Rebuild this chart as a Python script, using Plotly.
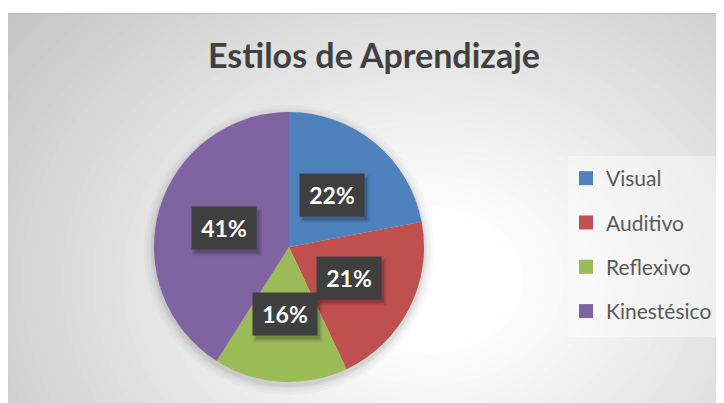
import math
import plotly.graph_objects as go

# ---- data ----
categories = ["Visual", "Auditivo", "Reflexivo", "Kinestésico"]
values = [22, 21, 16, 41]
colors = ["#4F81BD", "#C0504D", "#9BBB59", "#8064A2"]
title_text = "Estilos de Aprendizaje"

# ---- layout geometry (window pixels; page body has an 8px margin) ----
OFF = 8
FW, FH = 716, 395
PIE_CX, PIE_CY, PIE_R = 289, 247, 135
LABEL_FRAC = 0.5
BOX_W, BOX_H = 64, 42


def px(x):
    return (x - OFF) / FW


def py(y):
    return 1 - (y - OFF) / FH


shapes = []

# radial gradient background approximation
GCX, GCY, GRX, GRY = 430, 280, 420, 330
steps = 60
for i in range(steps, -1, -1):
    s = 0.15 + i * (1.6 - 0.15) / steps
    t = min(max((s - 0.2) / 1.1, 0), 1)
    c = round(255 - 59 * t)
    shapes.append(dict(type="circle", xref="paper", yref="paper", layer="below",
                       x0=px(GCX - s * GRX), x1=px(GCX + s * GRX),
                       y0=py(GCY + s * GRY), y1=py(GCY - s * GRY),
                       fillcolor=f"rgb({c},{c},{c})", line=dict(width=0)))

# white top strip and chart border
shapes.append(dict(type="rect", xref="paper", yref="paper", layer="below",
                   x0=-0.02, x1=1.02, y0=py(13), y1=1.05, fillcolor="white", line=dict(width=0)))
shapes.append(dict(type="line", xref="paper", yref="paper", layer="below",
                   x0=0, x1=1, y0=py(13.5), y1=py(13.5), line=dict(color="#bdbdbd", width=1)))

# legend panel
shapes.append(dict(type="rect", xref="paper", yref="paper", layer="below",
                   x0=px(568), x1=px(722), y0=py(337), y1=py(156),
                   fillcolor="rgba(255,255,255,0.4)", line=dict(width=0)))

# pie soft shadow
for k, a in [(10, 0.025), (7, 0.03), (4, 0.04), (2, 0.05)]:
    shapes.append(dict(type="circle", xref="paper", yref="paper", layer="below",
                       x0=px(PIE_CX - PIE_R - k), x1=px(PIE_CX + PIE_R + k),
                       y0=py(PIE_CY + 3 + PIE_R + k), y1=py(PIE_CY + 3 - PIE_R - k),
                       fillcolor=f"rgba(0,0,0,{a})", line=dict(width=0)))

fig = go.Figure()

fig.add_trace(go.Pie(
    labels=categories, values=values, sort=False, direction="clockwise", rotation=0,
    marker=dict(colors=colors, line=dict(width=0)),
    textinfo="none", hoverinfo="label+percent", showlegend=False,
    domain=dict(x=[px(PIE_CX - PIE_R), px(PIE_CX + PIE_R)],
                y=[py(PIE_CY + PIE_R), py(PIE_CY - PIE_R)]),
))

# legend entries
for cat, col in zip(categories, colors):
    fig.add_trace(go.Scatter(x=[None], y=[None], mode="markers", name=cat,
                             legendgroup=cat, showlegend=True,
                             marker=dict(symbol="square", size=14, color=col)))

# percentage labels (dark boxes with soft drop shadow)
annotations = []
total = sum(values)
cum = 0
for v in values:
    mid = (cum + v / 2) / total * 2 * math.pi
    cum += v
    lx = PIE_CX + LABEL_FRAC * PIE_R * math.sin(mid)
    ly = PIE_CY - LABEL_FRAC * PIE_R * math.cos(mid)
    txt = f"{round(100 * v / total)}%"
    for k, a in [(3, 0.06), (1.5, 0.09), (0, 0.13)]:
        shapes.append(dict(type="rect", xref="paper", yref="paper", layer="above",
                           x0=px(lx - BOX_W / 2 + 3 - k), x1=px(lx + BOX_W / 2 + 3 + k),
                           y0=py(ly + BOX_H / 2 + 4 + k), y1=py(ly - BOX_H / 2 + 4 - k),
                           fillcolor=f"rgba(0,0,0,{a})", line=dict(width=0)))
    annotations.append(dict(x=px(lx), y=py(ly), xref="paper", yref="paper", showarrow=False,
                            xanchor="center", yanchor="middle",
                            text=txt, font=dict(family="Lato", size=23, color="white", weight="bold"),
                            bgcolor="#3f3f3f", width=BOX_W - 8, height=BOX_H - 8, borderpad=4))

fig.update_layout(
    width=FW, height=FH,
    margin=dict(l=0, r=0, t=0, b=0),
    paper_bgcolor="white", plot_bgcolor="rgba(0,0,0,0)",
    title=dict(text=title_text, x=px(374), xanchor="center", y=py(56), yanchor="middle",
               font=dict(family="Lato", size=34, color="#404040", weight="bold")),
    xaxis=dict(visible=False), yaxis=dict(visible=False),
    legend=dict(x=px(566), y=py(158), xanchor="left", yanchor="top",
                bgcolor="rgba(0,0,0,0)", tracegroupgap=14, itemwidth=30,
                font=dict(family="Lato", size=21, color="#595959")),
    shapes=shapes, annotations=annotations,
)

fig.write_html("out.html")
